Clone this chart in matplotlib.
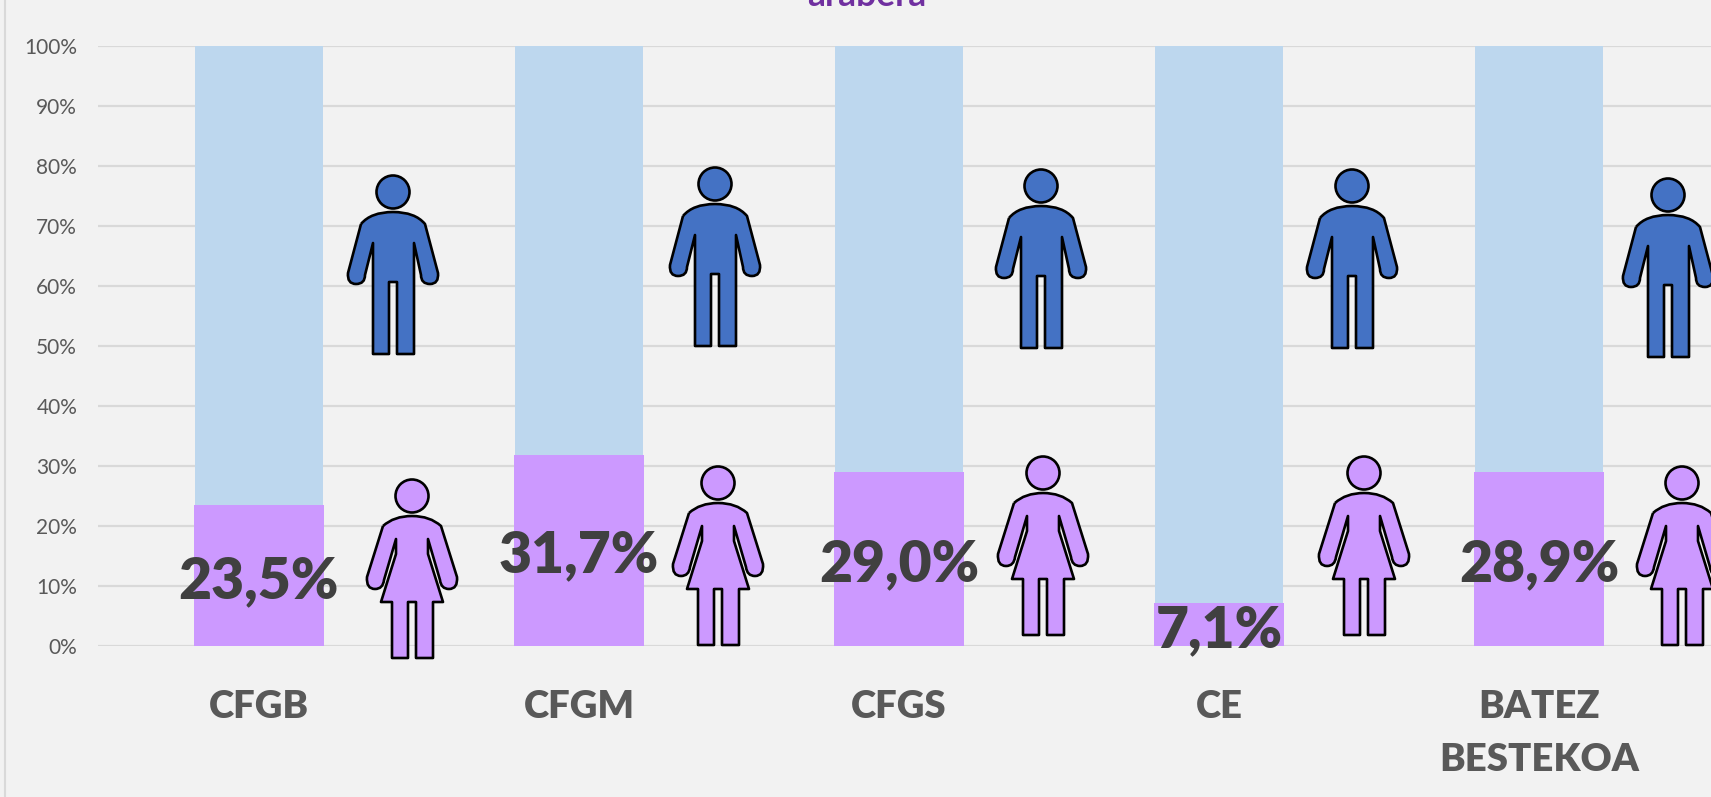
import matplotlib
matplotlib.use("Agg")
import matplotlib.pyplot as plt
from matplotlib.path import Path
from matplotlib.patches import PathPatch, Circle
from matplotlib.transforms import Affine2D
from matplotlib.ticker import FuncFormatter

categories = ["CFGB", "CFGM", "CFGS", "CE", "BATEZ\nBESTEKOA"]
women = [23.5, 31.7, 29.0, 7.1, 28.9]
men = [100 - v for v in women]
labels = ["23,5%", "31,7%", "29,0%", "7,1%", "28,9%"]

W, H = 1711, 797
BG = "#F2F2F2"
plt.rcParams["font.family"] = ["Lato", "DejaVu Sans"]

fig = plt.figure(figsize=(W / 100, H / 100), dpi=100, facecolor=BG)
ax = fig.add_axes([98 / W, (H - 645.5) / H, (W - 98) / W, 599.5 / H], facecolor=BG)
x = list(range(len(categories)))
ax.bar(x, women, width=0.406, color="#CC99FF", zorder=3)
ax.bar(x, men, bottom=women, width=0.4, color="#BDD7EE", zorder=2)
ax.set_xlim(-0.503, 4.5375)
ax.set_ylim(0, 100)
ax.set_yticks(range(0, 101, 10))
ax.yaxis.set_major_formatter(FuncFormatter(lambda v, _: f"{v:.0f}%"))
ax.tick_params(axis="y", length=0, pad=15, labelsize=15, labelcolor="#595959")
for t in ax.get_yticklabels():
    t.set_y(t.get_position()[1])
ax.set_xticks(x, categories)
ax.tick_params(axis="x", length=0, pad=32, labelsize=27.5, labelcolor="#595959")
for t in ax.get_xticklabels():
    t.set_fontweight("heavy")
    t.set_linespacing(1.68)
ax.grid(axis="y", color="#D9D9D9", lw=1.6, zorder=1)
ax.set_axisbelow(True)
for s in ax.spines.values():
    s.set_visible(False)

# percentage labels (vertical placement in pixels from the top of the figure)
label_y = [581, 555, 564, 630, 564]
for xi, txt, py in zip(x, labels, label_y):
    px = ax.transData.transform((xi, 0))[0]
    fig.text(px / W, (H - py) / H, txt, ha="center", va="center", fontsize=41,
             fontweight="heavy", color="#404040", zorder=6)

# clipped title fragment and left border
fig.text(867 / W, (H - 6) / H, "arabera", ha="center", va="baseline", fontsize=25.5,
         fontweight="bold", color="#7030A0")
fig.add_artist(plt.Line2D([4.5 / W, 4.5 / W], [0, 1], color="#D9D9D9", lw=1.5))

# pictograms: outlines in local pixels, origin at top centre of the head
M, L, C = Path.MOVETO, Path.LINETO, Path.CURVE3
man_pts = [(-32, 49), (-22, 37), (0, 37), (22, 37), (32, 49), (45, 98),
           (46, 109), (37, 109), (28, 109), (28, 100),
           (21, 68), (21, 179), (4, 179), (4, 107), (-4, 107), (-4, 179), (-20, 179), (-20, 68),
           (-28, 100), (-28, 109), (-37, 109), (-46, 109), (-45, 98), (-32, 49)]
man_codes = [M, C, C, C, C, L, C, C, C, C, L, L, L, L, L, L, L, L, L, C, C, C, C, L]
woman_pts = [(-29, 47), (-18, 37), (0, 37), (18, 37), (29, 47), (45, 98),
             (46, 110), (37, 110), (29, 110), (28, 101),
             (16, 60), (16, 75), (31, 123), (21, 123), (21, 179), (4, 179), (4, 123), (-4, 123),
             (-4, 179), (-20, 179), (-20, 123), (-31, 123), (-16, 75), (-16, 60),
             (-28, 101), (-29, 110), (-37, 110), (-46, 110), (-45, 98), (-29, 47)]
woman_codes = [M, C, C, C, C, L, C, C, C, C, L, L, L, L, L, L, L, L, L, L, L, L, L, L, L, C, C, C, C, L]
man_x, man_top = [393, 715, 1041, 1352, 1668], [175, 167, 169, 169, 178]
woman_x, woman_top = [412, 718, 1043, 1364, 1682], [479, 466, 456, 456, 466]


def icon(cx, top, pts, codes, color):
    tr = Affine2D().scale(1, -1).translate(cx, H - top)
    fig.add_artist(PathPatch(Path(pts, codes), facecolor=color, edgecolor="black", lw=1.9,
                             joinstyle="round", transform=tr, zorder=7))
    fig.add_artist(Circle((0, 17), 16.5, facecolor=color, edgecolor="black", lw=1.9,
                          transform=tr, zorder=7))


for cx, top in zip(man_x, man_top):
    icon(cx, top, man_pts, man_codes, "#4472C4")
for cx, top in zip(woman_x, woman_top):
    icon(cx, top, woman_pts, woman_codes, "#CC99FF")

fig.savefig("out.png", dpi=100, facecolor=BG)
